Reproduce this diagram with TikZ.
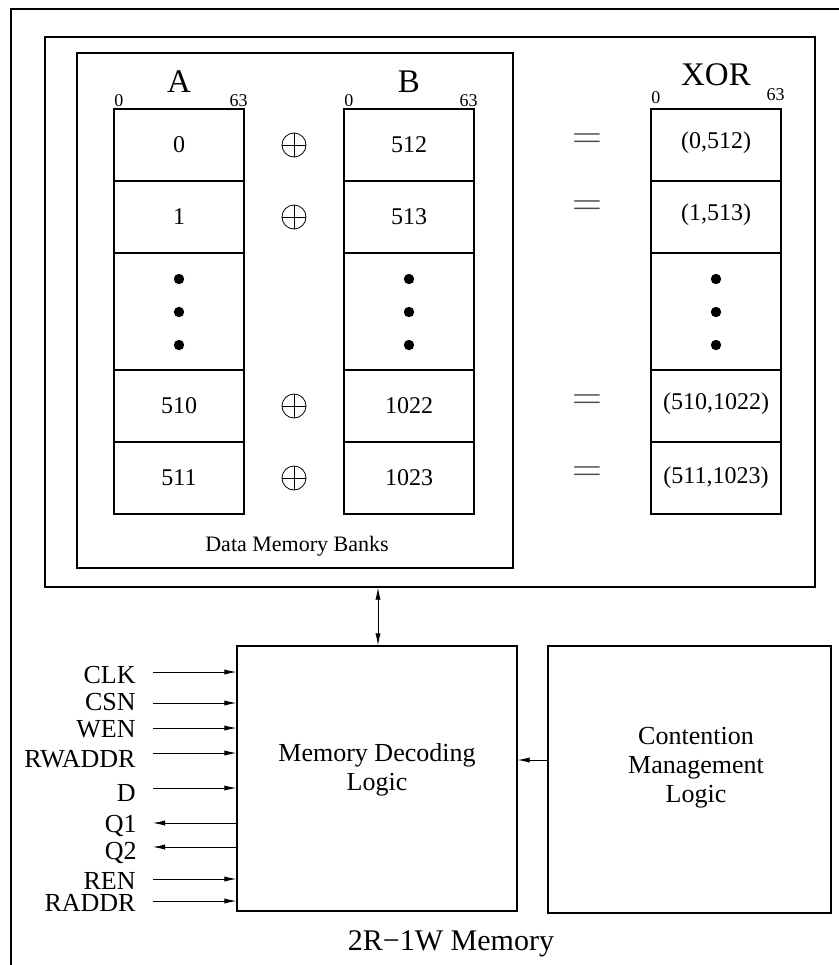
\documentclass[tikz,border=0pt]{standalone}
\usepackage{fontspec}
\setmainfont{Liberation Serif}
\usetikzlibrary{arrows.meta,positioning,fit,calc}
\definecolor{eqGray}{HTML}{4A4A4A}

\begin{document}
\begin{tikzpicture}[x=0.5pt,y=-0.5pt,
  memframe/.style={draw,line width=0.65pt},
  cell/.style={line width=0.75pt},
  blk/.style={draw,line width=0.65pt,inner sep=0pt},
  sig/.style={line width=0.4pt,-{Latex[length=6pt,width=2.6pt]}},
  bidir/.style={line width=0.4pt,{Latex[length=6pt,width=2.6pt]}-{Latex[length=6pt,width=2.6pt]}},
  xorop/.style={circle,draw,line width=0.4pt,minimum size=12pt,inner sep=0pt,
    path picture={\draw[line width=0.4pt] (path picture bounding box.north) -- (path picture bounding box.south)
      (path picture bounding box.west) -- (path picture bounding box.east);}},
  eqsign/.style={text=eqGray,inner sep=0pt,font=\fontsize{20}{20}\selectfont},
  colname/.style={font=\fontsize{16.5}{18}\selectfont},
  bitno/.style={inner sep=0pt,font=\fontsize{9}{10}\selectfont},
  celltxt/.style={font=\fontsize{12}{14}\selectfont},
  pin/.style={anchor=base east,inner sep=0pt,font=\fontsize{13}{15}\selectfont},
  blktxt/.style={align=center,font=\fontsize{13}{14.5}\selectfont}]
  \useasboundingbox (0,0) rectangle (839,965);
  % ---- outer frame (runs off the page) ----
  \begin{scope}
    \clip (0,0) rectangle (839,965);
    \draw[memframe] (11,9) rectangle (870,990);
  \end{scope}
  % ---- memory array ----
  \node[blk,fit={(45,37) (815,587)}] (chip) {};
  \node[blk,fit={(77,53) (513,568)}] (banks) {};
  \node[font=\fontsize{11}{13}\selectfont] (bankslbl) at (297,546) {Data Memory Banks};
  % ---- banks A, B and XOR ----
  \foreach \c/\x/\lbl/\ly/\ny/\my in {A/114/A/82/106/106, B/344/B/82/106/106, X/651/XOR/75/103/100}{
    \draw[cell] (\x,109) rectangle ++(130,405);
    \foreach \y in {181,253,370,442}{
      \draw[cell] (\x,\y) -- ++(130,0);
    }
    \foreach \y in {279,312,345}{
      \fill (\x+65,\y) circle (2.6pt);
    }
    \node[colname] (\c-name) at (\x+65,\ly) {\lbl};
    \node[bitno,anchor=base west] (\c-lsb) at (\x,\ny) {0};
    \node[bitno,anchor=base east] (\c-msb) at (\x+134,\my) {63};
  }
  \node[celltxt] (A0) at (179,145) {0};
  \node[celltxt] (A1) at (179,217) {1};
  \node[celltxt] (A510) at (179,406) {510};
  \node[celltxt] (A511) at (179,478) {511};
  \node[celltxt] (B512) at (409,145) {512};
  \node[celltxt] (B513) at (409,217) {513};
  \node[celltxt] (B1022) at (409,406) {1022};
  \node[celltxt] (B1023) at (409,478) {1023};
  \node[celltxt] (X0) at (716,143) {(0,512)};
  \node[celltxt] (X1) at (716,215) {(1,513)};
  \node[celltxt] (X510) at (716,404) {(510,1022)};
  \node[celltxt] (X511) at (716,478) {(511,1023)};
  % ---- xor and equal signs ----
  \foreach \y/\e [count=\i] in {145/141,217/208,406/402,478/474}{
    \node[xorop] (op\i) at (294,\y) {};
    \node[eqsign] (eq\i) at (587,\e) {$=$};
  }
  % ---- logic blocks ----
  \node[blk,fit={(237,646) (517,911)}] (decode) {};
  \node[blktxt] (decodetxt) at (377,770) {Memory Decoding\\Logic};
  \node[blk,fit={(548,646) (831,913)}] (cont) {};
  \node[blktxt] (conttxt) at (696,768) {Contention\\Management\\Logic};
  \coordinate (bus) at (378,0);
  \coordinate (ctl) at (0,760);
  \draw[bidir] (chip.south -| bus) -- (decode.north -| bus);
  \draw[sig] (cont.west |- ctl) -- (decode.east |- ctl);
  % ---- pins ----
  \foreach \p/\a/\b in {CLK/672/683, CSN/703/710, WEN/728/737, RWADDR/753/767, D/788/801, REN/879/889, RADDR/901/911}{
    \node[pin] (\p) at (136,\b) {\p};
    \coordinate (\p-in) at (153,\a);
    \draw[sig] (\p-in) -- (\p-in -| decode.west);
  }
  \foreach \p/\a/\b in {Q1/823/832, Q2/847/859}{
    \node[pin] (\p) at (137,\b) {\p};
    \coordinate (\p-out) at (153,\a);
    \draw[sig] (\p-out -| decode.west) -- (\p-out);
  }
  \node[anchor=base,font=\fontsize{15}{17}\selectfont] (title) at (451,950) {2R−1W Memory};
\end{tikzpicture}
\end{document}
